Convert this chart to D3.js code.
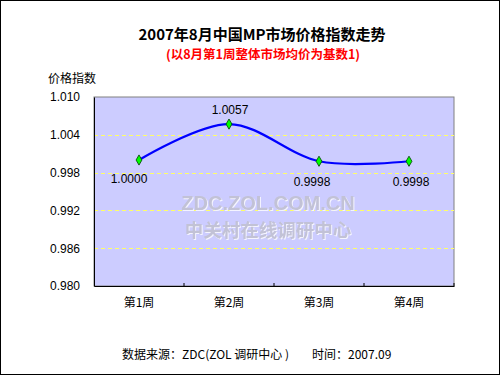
<!DOCTYPE html>
<html>
<head>
<meta charset="utf-8">
<script src="https://cdn.jsdelivr.net/npm/d3@7"></script>
<style>
  body { margin: 0; background: #fff; }
  svg { display: block; font-family: "Liberation Sans", Arial, "Noto Sans CJK SC", sans-serif; }
</style>
</head>
<body>
<svg id="chart"></svg>
<script>
let weeks = ["第1周", "第2周", "第3周", "第4周"];
let indexValues = [1.0000, 1.0057, 0.9998, 0.9998];
let valueLabels = ["1.0000", "1.0057", "0.9998", "0.9998"];
let yTicks = [0.980, 0.986, 0.992, 0.998, 1.004, 1.010];

let width = 500, height = 375;
let svg = d3.select("#chart")
    .attr("width", width)
    .attr("height", height);

// emboss look for the watermark
let emboss = svg.append("defs").append("filter").attr("id", "emboss");
emboss.append("feDropShadow")
    .attr("dx", 1).attr("dy", 1).attr("stdDeviation", 0)
    .attr("flood-color", "#f4f4ff");

// outer frame
svg.append("rect")
    .attr("x", 0.5).attr("y", 0.5)
    .attr("width", width - 1).attr("height", height - 1)
    .attr("fill", "#fff").attr("stroke", "#000");

let plot = {left: 94, right: 454, top: 97, bottom: 286};

let x = d3.scaleBand().domain(weeks).range([plot.left, plot.right]);
let y = d3.scaleLinear().domain([0.980, 1.010]).range([plot.bottom, plot.top]);

// titles
svg.append("text")
    .attr("x", 262).attr("y", 40)
    .attr("text-anchor", "middle")
    .attr("font-size", 15).attr("font-weight", "bold")
    .attr("font-family", "'Noto Sans CJK SC', sans-serif")
    .text("2007年8月中国MP市场价格指数走势");

svg.append("text")
    .attr("x", 263).attr("y", 59)
    .attr("text-anchor", "middle")
    .attr("font-size", 12.5).attr("font-weight", "bold")
    .attr("fill", "#ff0000")
    .attr("font-family", "'Noto Sans CJK SC', sans-serif")
    .text("(以8月第1周整体市场均价为基数1)");

svg.append("text")
    .attr("x", 48).attr("y", 83)
    .attr("font-size", 12)
    .attr("font-family", "'Noto Sans CJK SC', sans-serif")
    .text("价格指数");

// plot background
svg.append("rect")
    .attr("x", plot.left).attr("y", plot.top)
    .attr("width", plot.right - plot.left).attr("height", plot.bottom - plot.top)
    .attr("fill", "#ccccff").attr("stroke", "#808080");

// grid lines
svg.append("g")
    .selectAll("line")
    .data(yTicks.filter(d => d > 0.980 && d < 1.010))
    .enter().append("line")
    .attr("x1", plot.left).attr("x2", plot.right)
    .attr("y1", d => Math.round(y(d)) + 0.5).attr("y2", d => Math.round(y(d)) + 0.5)
    .attr("stroke", "#ffff66").attr("stroke-dasharray", "4,3");

// watermark
let wm = svg.append("g")
    .attr("font-weight", "bold").attr("text-anchor", "middle")
    .attr("fill", "#c2c2d6").attr("filter", "url(#emboss)");
wm.append("text")
    .attr("x", 268).attr("y", 210)
    .attr("font-size", 20)
    .attr("font-family", "'Liberation Sans', Arial, sans-serif")
    .text("ZDC.ZOL.COM.CN");
wm.append("text")
    .attr("x", 268).attr("y", 237)
    .attr("font-size", 18.5)
    .attr("font-family", "'Noto Sans CJK SC', sans-serif")
    .text("中关村在线调研中心");

// axes
let yAxis = d3.axisLeft(y).tickValues(yTicks).tickSize(0).tickPadding(14)
    .tickFormat(d3.format(".3f"));
svg.append("g")
    .attr("transform", "translate(" + plot.left + ",0)")
    .call(yAxis)
    .call(g => g.select(".domain").attr("stroke", "#000"))
    .selectAll("text").attr("font-size", 12).attr("fill", "#000")
    .attr("font-family", "'Liberation Sans', Arial, sans-serif");

let xAxis = d3.axisBottom(x).tickSize(0).tickPadding(12);
svg.append("g")
    .attr("transform", "translate(0," + plot.bottom + ")")
    .call(xAxis)
    .call(g => g.select(".domain").attr("stroke", "#000"))
    .selectAll("text").attr("font-size", 12).attr("fill", "#000")
    .attr("font-family", "'Noto Sans CJK SC', sans-serif");

// inner tick marks at category boundaries
svg.append("g")
    .selectAll("line")
    .data(weeks.slice(1).concat(["end"]))
    .enter().append("line")
    .attr("x1", d => d === "end" ? plot.right : x(d))
    .attr("x2", d => d === "end" ? plot.right : x(d))
    .attr("y1", plot.bottom - 3).attr("y2", plot.bottom)
    .attr("stroke", "#000");

// smoothed line
let pts = weeks.map((w, i) => [x(w) + x.bandwidth() / 2, y(indexValues[i])]);
let line = d3.line().curve(d3.curveCatmullRom.alpha(0));
svg.append("path")
    .attr("d", line(pts))
    .attr("fill", "none")
    .attr("stroke", "#0000ff")
    .attr("stroke-width", 2.2);

// diamond markers
svg.append("g")
    .selectAll("path")
    .data(pts)
    .enter().append("path")
    .attr("d", d3.symbol(d3.symbolDiamond, 30))
    .attr("transform", d => "translate(" + d[0] + "," + d[1] + ")")
    .attr("fill", "#00ff00").attr("stroke", "#004000").attr("stroke-width", 0.8);

// value labels
let labelOffsets = [[-10, 23], [1, -10], [-7, 25], [2, 25]];
svg.append("g")
    .selectAll("text")
    .data(pts)
    .enter().append("text")
    .attr("x", (d, i) => d[0] + labelOffsets[i][0])
    .attr("y", (d, i) => d[1] + labelOffsets[i][1])
    .attr("text-anchor", "middle")
    .attr("font-size", 12)
    .attr("font-family", "'Liberation Sans', Arial, sans-serif")
    .text((d, i) => valueLabels[i]);

// footer
svg.append("text")
    .attr("x", 122).attr("y", 359)
    .attr("font-size", 12)
    .attr("font-family", "'Noto Sans CJK SC', sans-serif")
    .text("数据来源：ZDC(ZOL 调研中心 )");
svg.append("text")
    .attr("x", 312).attr("y", 359)
    .attr("font-size", 12)
    .attr("font-family", "'Noto Sans CJK SC', sans-serif")
    .text("时间：2007.09");
</script>
</body>
</html>
